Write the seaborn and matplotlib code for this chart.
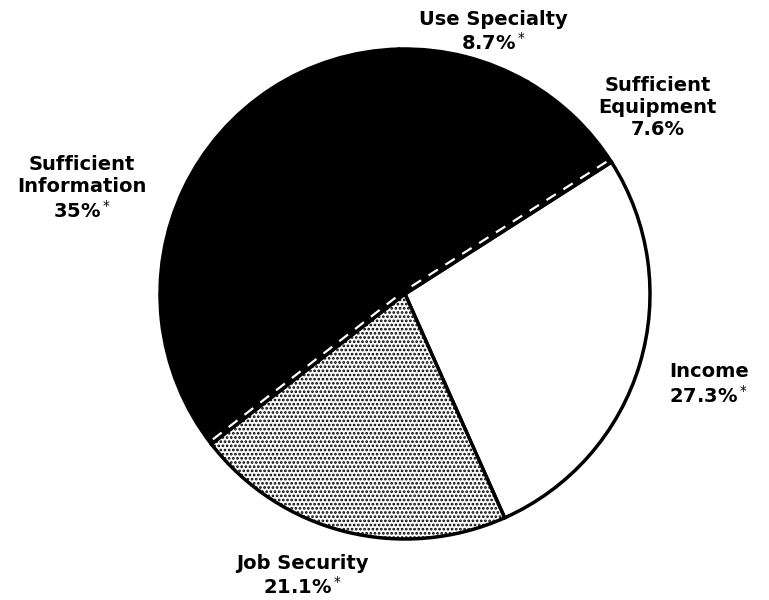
import numpy as np
import matplotlib
matplotlib.use('Agg')
import matplotlib.pyplot as plt
import seaborn as sns

# slices in counter-clockwise order, starting at the Income/Job Security edge
categories = ['Income', 'Sufficient\nEquipment', 'Use Specialty', 'Sufficient\nInformation', 'Job Security']
shares = [27.3, 7.6, 8.7, 35.0, 21.1]
pct_labels = ['27.3%$^*$', '7.6%', '8.7%$^*$', '35%$^*$', '21.1%$^*$']

# styling / layout (not data)
face = ['white', 'black', 'black', 'black', 'white']
hatches = [None, None, None, None, '....']
label_xy = [(1.24, -0.37), (1.03, 0.76), (0.36, 1.07), (-1.32, 0.43), (-0.42, -1.15)]

sns.set_style('white')
plt.rcParams['font.family'] = ['DejaVu Sans']
plt.rcParams['hatch.linewidth'] = 1.3

fig = plt.figure(figsize=(7.69, 6), dpi=100)
ax = fig.add_axes([0, 0, 1, 1])

wedges, _ = ax.pie(shares, startangle=-66, counterclock=True, colors=face,
                   wedgeprops=dict(edgecolor='black', linewidth=2.5))
for w, h in zip(wedges, hatches):
    if h:
        w.set_hatch(h)

# white dashed edges where the black area meets its neighbours
for i in (0, 4):
    w = wedges[i]
    th = np.deg2rad(w.theta2 if i == 0 else w.theta1)
    off = 0.012 if i == 0 else -0.012
    r = np.array([0.04, 0.985]) * w.r
    ax.plot(w.center[0] + r * np.cos(th) - off * np.sin(th),
            w.center[1] + r * np.sin(th) + off * np.cos(th),
            color='white', lw=1.6, ls=(0, (5, 4)))

for cat, p, (x, y) in zip(categories, pct_labels, label_xy):
    ax.text(x, y, cat + '\n' + p, ha='center', va='center', fontsize=14,
            fontweight='bold', linespacing=1.2, color='black')

ax.set_xlim(-405 / 245, (769 - 405) / 245)
ax.set_ylim(-(600 - 294) / 245, 294 / 245)
ax.set_aspect('auto')
ax.axis('off')

fig.savefig('out.png', dpi=100, facecolor='white')
